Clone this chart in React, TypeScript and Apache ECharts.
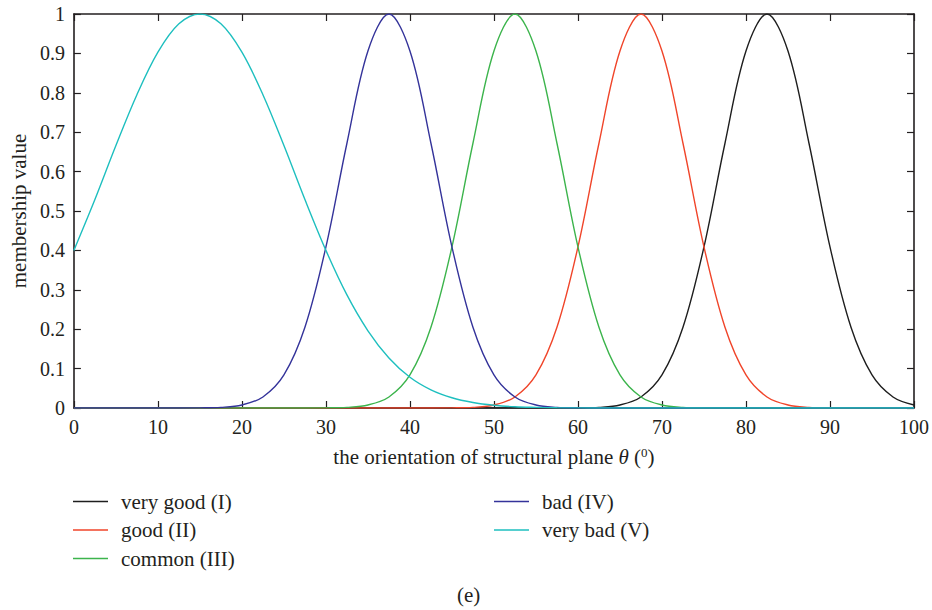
import { useEffect, useRef } from "react";
import * as echarts from "echarts";

// x positions (theta, degrees)
const theta = [
  0, 2.5, 5, 7.5, 10, 12.5, 15, 17.5, 20, 22.5, 25, 27.5, 30, 32.5, 35, 37.5, 40, 42.5, 45, 47.5,
  50, 52.5, 55, 57.5, 60, 62.5, 65, 67.5, 70, 72.5, 75, 77.5, 80, 82.5, 85, 87.5, 90, 92.5, 95, 97.5, 100,
];

// membership values
const veryGood = [
  0, 0, 0, 0, 0, 0, 0, 0, 0, 0, 0, 0, 0, 0, 0, 0, 0, 0, 0, 0,
  0, 0, 0, 0, 0.0003, 0.0017, 0.0077, 0.028, 0.084, 0.205, 0.409, 0.672, 0.906, 1, 0.906, 0.672, 0.409, 0.205, 0.084, 0.028, 0.0077,
];
const good = [
  0, 0, 0, 0, 0, 0, 0, 0, 0, 0, 0, 0, 0, 0, 0, 0, 0, 0, 0.0003, 0.0017,
  0.0077, 0.028, 0.084, 0.205, 0.409, 0.672, 0.906, 1, 0.906, 0.672, 0.409, 0.205, 0.084, 0.028, 0.0077, 0.0017, 0.0003, 0, 0, 0, 0,
];
const common = [
  0, 0, 0, 0, 0, 0, 0, 0, 0, 0, 0, 0, 0.0003, 0.0017, 0.0077, 0.028, 0.084, 0.205, 0.409, 0.672,
  0.906, 1, 0.906, 0.672, 0.409, 0.205, 0.084, 0.028, 0.0077, 0.0017, 0.0003, 0, 0, 0, 0, 0, 0, 0, 0, 0, 0,
];
const bad = [
  0, 0, 0, 0, 0, 0, 0.0003, 0.0017, 0.0077, 0.028, 0.084, 0.205, 0.409, 0.672, 0.906, 1, 0.906, 0.672, 0.409, 0.205,
  0.084, 0.028, 0.0077, 0.0017, 0.0003, 0, 0, 0, 0, 0, 0, 0, 0, 0, 0, 0, 0, 0, 0, 0, 0,
];
const veryBad = [
  0.4, 0.529, 0.666, 0.795, 0.903, 0.975, 1, 0.975, 0.903, 0.795, 0.666, 0.529, 0.4, 0.287, 0.196, 0.127, 0.078, 0.046, 0.026, 0.014,
  0.007, 0.003, 0.0015, 0.0006, 0.0002, 0, 0, 0, 0, 0, 0, 0, 0, 0, 0, 0, 0, 0, 0, 0, 0,
];

const seriesNames = ["very good (I)", "good (II)", "common (III)", "bad (IV)", "very bad (V)"];
const seriesValues = [veryGood, good, common, bad, veryBad];
const seriesColors = ["#1e1e1e", "#f0452a", "#3cb44c", "#34339a", "#1ebfbf"];

const FONT = "'Liberation Serif', 'Times New Roman', serif";
const INK = "#231f20";

function mkLine() {
  return { show: true, onZero: false, lineStyle: { color: INK, width: 1.6 } };
}
function mkTick() {
  return { show: true, inside: true, length: 7, lineStyle: { color: INK, width: 1.2 } };
}
function mkLegend(names: string[], left: number) {
  return {
    data: names,
    orient: "vertical",
    left,
    top: 491,
    padding: 0,
    icon: "rect",
    itemWidth: 35,
    itemHeight: 1.5,
    itemGap: 7.5,
    textStyle: { fontSize: 21, lineHeight: 21, color: INK, fontFamily: FONT, padding: [0, 0, 0, 8] },
  };
}

export default function App() {
  const ref = useRef<HTMLDivElement>(null);
  useEffect(() => {
    const chart = echarts.init(ref.current!, null, { renderer: "svg" });
    chart.setOption({
      animation: false,
      backgroundColor: "#ffffff",
      textStyle: { fontFamily: FONT },
      grid: { left: 72.5, top: 14, width: 842, height: 394, containLabel: false },
      xAxis: [
        {
          type: "value",
          min: 0,
          max: 100,
          interval: 10,
          position: "bottom",
          axisLine: mkLine(),
          axisTick: mkTick(),
          splitLine: { show: false },
          axisLabel: { margin: 9, fontSize: 20, color: INK, fontFamily: FONT },
          name: "the orientation of structural plane {i|θ} ({s|0})",
          nameLocation: "middle",
          nameGap: 38,
          nameTextStyle: {
            fontSize: 21,
            color: INK,
            fontFamily: FONT,
            lineHeight: 22,
            rich: {
              i: { fontSize: 21, fontStyle: "italic", color: INK, fontFamily: FONT, lineHeight: 22 },
              s: { fontSize: 13, color: INK, fontFamily: FONT, lineHeight: 13, verticalAlign: "top" },
            },
          },
        },
        {
          type: "value",
          min: 0,
          max: 100,
          interval: 10,
          position: "top",
          axisLine: mkLine(),
          axisTick: mkTick(),
          splitLine: { show: false },
          axisLabel: { show: false },
        },
      ],
      yAxis: [
        {
          type: "value",
          min: 0,
          max: 1,
          interval: 0.1,
          position: "left",
          axisLine: mkLine(),
          axisTick: mkTick(),
          splitLine: { show: false },
          axisLabel: { margin: 9, fontSize: 20, color: INK, fontFamily: FONT },
          name: "membership value",
          nameLocation: "middle",
          nameGap: 41,
          nameTextStyle: { fontSize: 21, color: INK, fontFamily: FONT },
        },
        {
          type: "value",
          min: 0,
          max: 1,
          interval: 0.1,
          position: "right",
          axisLine: mkLine(),
          axisTick: mkTick(),
          splitLine: { show: false },
          axisLabel: { show: false },
        },
      ],
      legend: [mkLegend(seriesNames.slice(0, 3), 73), mkLegend(seriesNames.slice(3), 494)],
      graphic: [
        {
          type: "text",
          left: 457,
          top: 584,
          style: { text: "(e)", fontSize: 21, fill: INK, fontFamily: FONT },
        },
      ],
      series: seriesNames.map((name, k) => ({
        name,
        type: "line",
        xAxisIndex: 0,
        yAxisIndex: 0,
        symbol: "none",
        smooth: 0.35,
        clip: true,
        data: theta.map((t, i) => [t, seriesValues[k][i]]),
        lineStyle: { color: seriesColors[k], width: 1.4 },
        itemStyle: { color: seriesColors[k] },
      })),
    });
    return () => chart.dispose();
  }, []);
  return (
    <div
      ref={ref}
      style={{ width: 932, height: 610, position: "absolute", left: 0, top: 0, background: "#fff" }}
    />
  );
}
